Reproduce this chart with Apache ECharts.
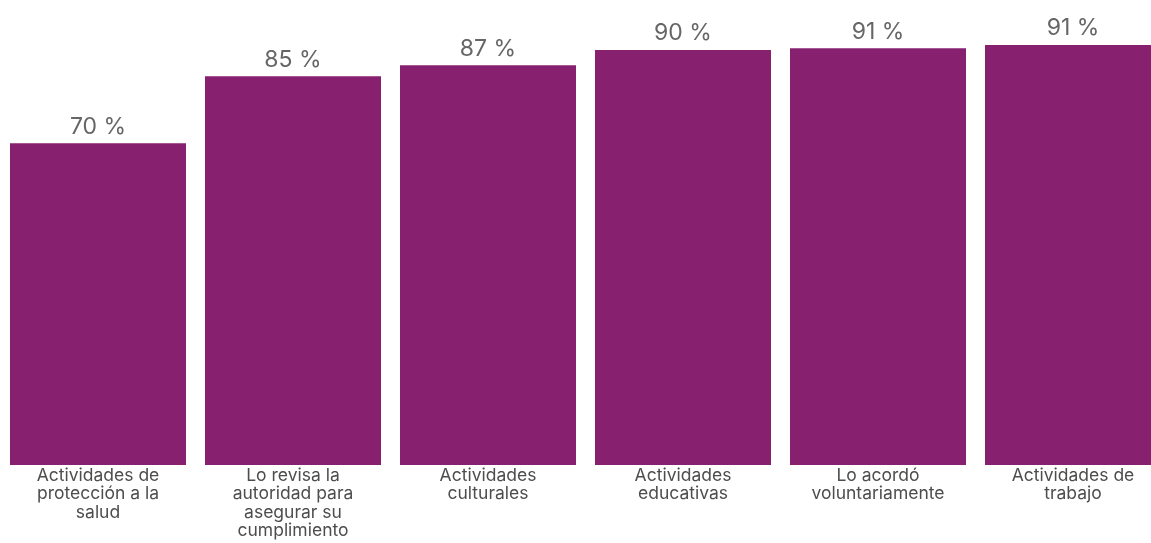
<!DOCTYPE html>
<html>
<head>
<meta charset="utf-8">
<script src="https://cdn.jsdelivr.net/npm/echarts@6/dist/echarts.min.js"></script>
<style>
html,body{margin:0;padding:0;background:#fff;}
#c{width:1151px;height:543px;}
</style>
</head>
<body>
<div id="c"></div>
<script>
const categories = [
  "Actividades de\nprotección a la\nsalud",
  "Lo revisa la\nautoridad para\nasegurar su\ncumplimiento",
  "Actividades\nculturales",
  "Actividades\neducativas",
  "Lo acordó\nvoluntariamente",
  "Actividades de\ntrabajo"
];
const values = [70.0, 84.6, 87.0, 90.3, 90.7, 91.4];

const chart = echarts.init(document.getElementById('c'), null, {renderer: 'canvas'});
chart.setOption({
  animation: false,
  backgroundColor: '#ffffff',
  grid: {left: 0.5, top: 5.4, width: 1170, bottom: 78, containLabel: false, outerBoundsMode: 'none'},
  xAxis: {
    type: 'category',
    data: categories,
    axisLine: {show: false},
    axisTick: {show: false},
    axisLabel: {
      interval: 0,
      margin: 1.5,
      color: '#4d4d4d',
      fontFamily: 'Inter, "Noto Sans", sans-serif',
      fontSize: 17.5,
      lineHeight: 18.3
    }
  },
  yAxis: {
    type: 'value',
    min: 0,
    max: 100,
    show: false,
    splitLine: {show: false}
  },
  series: [{
    type: 'bar',
    data: values,
    barCategoryGap: '9.74%',
    itemStyle: {color: '#87216F'},
    label: {
      show: true,
      position: 'top',
      distance: 5,
      color: '#666666',
      fontFamily: 'Inter, "Noto Sans", sans-serif',
      fontSize: 23,
      formatter: p => Math.round(p.value) + ' %'
    }
  }]
});
</script>
</body>
</html>
